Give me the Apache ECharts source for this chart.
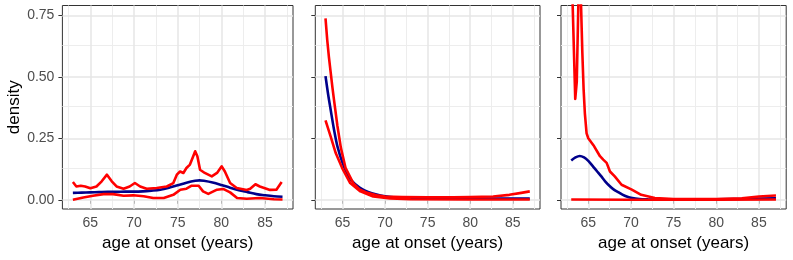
<!DOCTYPE html>
<html><head><meta charset="utf-8">
<script src="https://cdn.jsdelivr.net/npm/echarts@6/dist/echarts.min.js"></script>
<style>html,body{margin:0;padding:0;background:#fff}#c{width:793px;height:260px}</style>
</head><body><div id="c"></div>
<script>
// ---- tick labels / grid values ----
const xTicks = [65, 70, 75, 80, 85];
const xMinor = [62.5, 67.5, 72.5, 77.5, 82.5, 87.5];
const yTicks = [0, 0.25, 0.5, 0.75];
const yMinor = [0.125, 0.375, 0.625];
const xTitle = 'age at onset (years)';
const yTitle = 'density';

// ---- panel 1 ----
const p1MeanX = [63,64,65,66,67,68,69,70,71,72,73,74,75,76,77,77.5,78,79,80,81,82,83,84,85,86,87];
const p1Mean  = [0.028,0.029,0.030,0.031,0.032,0.032,0.033,0.033,0.034,0.037,0.041,0.049,0.059,0.069,0.077,0.079,0.077,0.070,0.060,0.049,0.039,0.031,0.023,0.018,0.014,0.012];
const p1UpX = [63.0,63.4,63.9,64.4,65.0,65.7,66.3,66.9,67.45,68.0,68.8,69.5,70.1,70.7,71.45,72.6,73.75,74.5,74.9,75.27,75.65,76.0,76.4,76.7,77.0,77.25,77.56,78.1,78.9,79.5,80.04,80.4,81.0,81.76,82.9,83.3,83.9,84.4,85.57,86.3,86.9];
const p1Up  = [0.072,0.054,0.057,0.054,0.047,0.054,0.075,0.102,0.075,0.054,0.045,0.054,0.068,0.054,0.045,0.048,0.054,0.068,0.102,0.115,0.109,0.129,0.143,0.170,0.197,0.177,0.122,0.109,0.095,0.109,0.136,0.115,0.068,0.048,0.040,0.045,0.063,0.054,0.040,0.041,0.072];
const p1LoX = [63.0,64.2,65.3,66.5,67.6,68.8,69.9,71.1,72.2,73.4,74.5,75.3,76.0,76.6,77.4,77.9,78.5,79.5,80.2,81.0,81.8,82.9,84.4,86.0,87.0];
const p1Lo  = [0.000,0.009,0.016,0.023,0.023,0.016,0.018,0.014,0.007,0.007,0.020,0.041,0.045,0.057,0.057,0.034,0.024,0.041,0.044,0.030,0.007,0.004,0.007,0.002,0.001];

// ---- panel 2 ----
const p2MeanX = [63.0,63.3,63.6,64.0,64.4,65.0,65.5,66.0,67.0,68.0,69.0,70.0,71,72,74,76,80,84,87];
const p2Mean  = [0.503,0.430,0.367,0.285,0.217,0.150,0.110,0.080,0.050,0.032,0.021,0.014,0.010,0.008,0.006,0.005,0.005,0.005,0.005];
const p2UpX = [63.0,63.2,63.4,63.6,63.8,64.0,64.4,64.8,65.35,66.3,67.0,67.9,69.0,70,72,75,78,80,82.7,84.6,86,87];
const p2Up  = [0.738,0.650,0.580,0.520,0.460,0.405,0.300,0.212,0.130,0.065,0.042,0.028,0.018,0.013,0.011,0.010,0.010,0.011,0.013,0.020,0.028,0.034];
const p2LoX = [63.0,63.6,64.2,64.96,65.9,67.1,68.6,70.6,73,80,87];
const p2Lo  = [0.323,0.258,0.190,0.129,0.068,0.034,0.013,0.005,0.002,0.001,0.001];

// ---- panel 3 ----
const p3MeanX = [63.0,63.5,64.0,64.5,65.0,65.5,66.0,66.5,67.0,67.5,68.0,68.5,69.0,69.5,70.0,71,72,75,80,84,87];
const p3Mean  = [0.160,0.172,0.178,0.172,0.158,0.138,0.117,0.096,0.074,0.056,0.041,0.031,0.021,0.013,0.008,0.003,0.002,0.001,0.002,0.004,0.006];
const p3UpX = [63.0,63.2,63.47,63.65,63.83,64.0,64.15,64.3,64.45,64.6,64.8,65.0,65.6,66.37,66.75,67.15,67.54,68.1,68.9,70.1,71.2,72.8,75,80,83,85,87];
const p3Up  = [1.00,0.75,0.41,0.48,0.79,1.10,0.79,0.60,0.45,0.35,0.27,0.25,0.222,0.177,0.163,0.150,0.115,0.095,0.061,0.041,0.020,0.007,0.003,0.003,0.006,0.013,0.017];
const p3LoX = [63.0,70,80,87];
const p3Lo  = [0.001,0.000,0.000,0.001];

const panels = [
  {meanX:p1MeanX, mean:p1Mean, upX:p1UpX, up:p1Up, loX:p1LoX, lo:p1Lo},
  {meanX:p2MeanX, mean:p2Mean, upX:p2UpX, up:p2Up, loX:p2LoX, lo:p2Lo},
  {meanX:p3MeanX, mean:p3Mean, upX:p3UpX, up:p3Up, loX:p3LoX, lo:p3Lo}
];

const FONT = "'Liberation Sans', Arial, sans-serif";
const gridPos = [
  {left:62.4, top:5.5, width:230.6, height:203.5},
  {left:315.3, top:5.5, width:224.7, height:203.5},
  {left:561, top:5.5, width:225.2, height:203.5}
];
const pairs = (xs, ys) => xs.map((x, i) => [x, ys[i]]);

const grids = [], xAxes = [], yAxes = [], series = [];
panels.forEach((p, i) => {
  grids.push(Object.assign({show:true, borderColor:'#333333', borderWidth:1, backgroundColor:'transparent', containLabel:false}, gridPos[i]));
  xAxes.push({
    type:'value', gridIndex:i, min:61.8, max:88.2,
    name:xTitle, nameLocation:'middle', nameGap:25,
    nameTextStyle:{fontFamily:FONT, fontSize:17, color:'#000'},
    axisLine:{show:false},
    axisTick:{show:true, length:4, customValues:xTicks, lineStyle:{color:'#333333', width:1}},
    axisLabel:{show:true, customValues:xTicks, margin:7, fontFamily:FONT, fontSize:14, color:'#4D4D4D'},
    splitLine:{show:false}
  });
  yAxes.push({
    type:'value', gridIndex:i, min:-0.0376, max:0.79,
    name: i === 0 ? yTitle : '', nameLocation:'middle', nameGap:38,
    nameTextStyle:{fontFamily:FONT, fontSize:17, color:'#000'},
    axisLine:{show:false},
    axisTick:{show:true, length:4, customValues:yTicks, lineStyle:{color:'#333333', width:1}},
    axisLabel:{show: i === 0, customValues:yTicks, margin:8, fontFamily:FONT, fontSize:14, color:'#4D4D4D',
      formatter: v => v.toFixed(2)},
    splitLine:{show:false}
  });
  const gl = [];
  xMinor.forEach(v => gl.push({xAxis:v, lineStyle:{color:'#EDEDED', width:1, type:'solid'}}));
  yMinor.forEach(v => gl.push({yAxis:v, lineStyle:{color:'#EDEDED', width:1, type:'solid'}}));
  xTicks.forEach(v => gl.push({xAxis:v, lineStyle:{color:'#E6E6E6', width:1.5, type:'solid'}}));
  yTicks.forEach(v => gl.push({yAxis:v, lineStyle:{color:'#E6E6E6', width:1.5, type:'solid'}}));
  series.push({
    type:'line', xAxisIndex:i, yAxisIndex:i, data:pairs(p.meanX, p.mean),
    showSymbol:false, smooth:0.3, z:3,
    lineStyle:{color:'#00008B', width:2.6}, itemStyle:{color:'#00008B'},
    markLine:{silent:true, symbol:['none','none'], z:1, label:{show:false}, animation:false, data:gl}
  });
  series.push({
    type:'line', xAxisIndex:i, yAxisIndex:i, data:pairs(p.upX, p.up),
    showSymbol:false, smooth:false, z:4, clip:true,
    lineStyle:{color:'#FF0000', width:2.6, join:'round'}, itemStyle:{color:'#FF0000'}
  });
  series.push({
    type:'line', xAxisIndex:i, yAxisIndex:i, data:pairs(p.loX, p.lo),
    showSymbol:false, smooth:false, z:4, clip:true,
    lineStyle:{color:'#FF0000', width:2.6, join:'round'}, itemStyle:{color:'#FF0000'}
  });
});

const chart = echarts.init(document.getElementById('c'), null, {renderer:'canvas'});
chart.setOption({animation:false, grid:grids, xAxis:xAxes, yAxis:yAxes, series:series});
</script>
</body></html>
